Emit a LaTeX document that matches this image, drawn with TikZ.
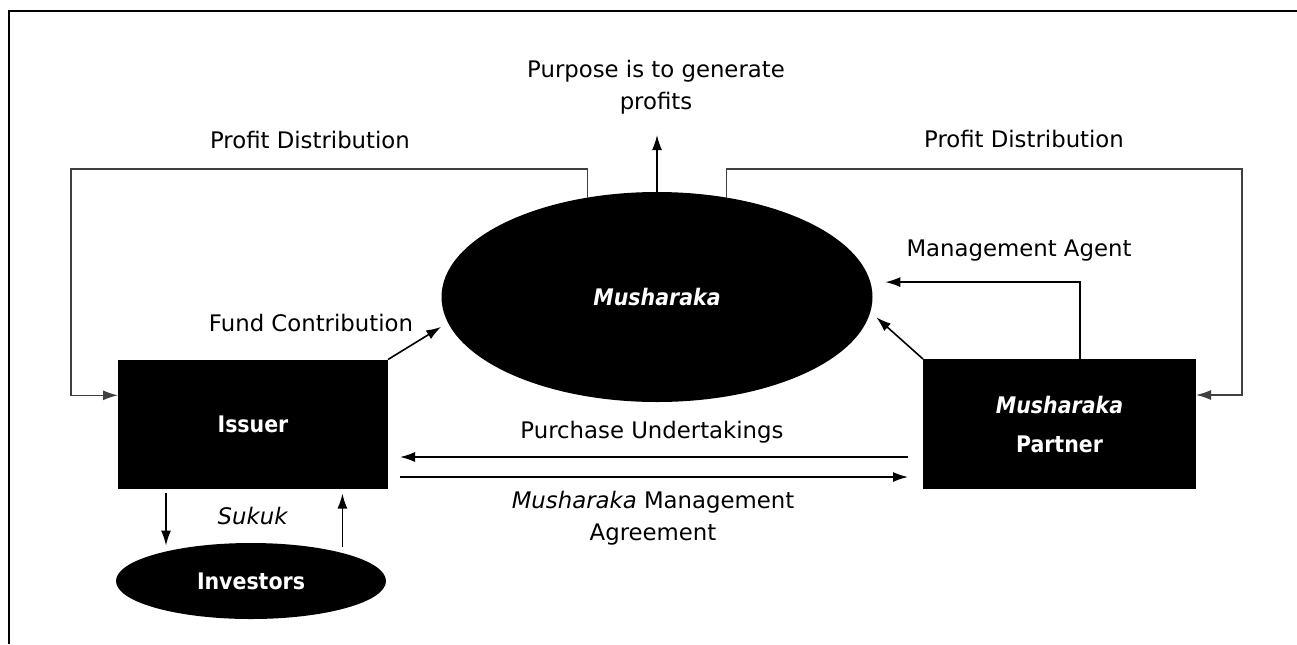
\documentclass[tikz,border=0pt]{standalone}
\usepackage{fontspec}
\setmainfont{DejaVu Sans}
\newfontfamily\condfont{DejaVu Sans Condensed}
\usetikzlibrary{shapes.geometric,arrows.meta}

\begin{document}
\begin{tikzpicture}[x=0.5pt, y=-0.5pt, line width=0.8pt,
  lbl/.style={font=\fontsize{11.4}{16}\selectfont, inner sep=0pt, align=center},
  blk/.style={fill=black, text=white, inner sep=0pt, outer sep=0pt, align=center,
    font=\condfont\bfseries\fontsize{11.4}{19.5}\selectfont},
  flow/.style={-{Latex[length=7.5pt,width=5pt]}},
  ring/.style={flow, black!75, line width=0.7pt}]
\useasboundingbox (0,0) rectangle (1297,644);
% frame
\draw[line width=1.4pt] (1297,11) -- (9,11) -- (9,644);
% parties
\node[blk, ellipse, minimum width=215.5pt, minimum height=105pt] (mush) at (657,297) {\itshape Musharaka};
\node[blk, rectangle, minimum width=135pt, minimum height=64.5pt] (issuer) at (253,424) {Issuer};
\node[blk, rectangle, minimum width=136.5pt, minimum height=65pt] (partner) at (1059.5,424) {{\itshape Musharaka}\\Partner};
\node[blk, ellipse, minimum width=135pt, minimum height=38pt] (investors) at (251,581) {Investors};
% labels
\node[lbl] (goal) at (656,87) {Purpose is to generate\\profits};
\node[lbl, anchor=base] (distL) at (310,148) {Profit Distribution};
\node[lbl, anchor=base] (distR) at (1024,147) {Profit Distribution};
\node[lbl, anchor=base] (agent) at (1019,256) {Management Agent};
\node[lbl, anchor=base] (fund) at (311,331) {Fund Contribution};
\node[lbl, anchor=base] (undertake) at (652,438) {Purchase Undertakings};
\node[lbl] (agree) at (653,518) {\textit{Musharaka} Management\\Agreement};
\node[lbl, anchor=base] (sukuk) at (253,524) {\textit{Sukuk}};
% corners and free ends
\coordinate (cornerL) at (71,169);
\coordinate (cornerR) at (1242,169);
\coordinate (goalTip) at (657,135);
\coordinate (sukukOut) at ([xshift=-43.5pt]issuer.south);
% profit distribution
\draw[ring] (mush.125) |- (cornerL) |- (issuer.168);
\draw[ring] (mush.55) |- (cornerR) |- (partner.12);
\draw[flow] (mush.north) -- (goalTip);
% contributions
\draw[flow, shorten >=4pt] (issuer.north east) -- (mush.187);
\draw[flow, shorten >=4pt] (partner.north west) -- (mush.-4);
\draw[flow, shorten >=7.5pt] ([xshift=10.25pt]partner.north) |- (mush.4);
% undertakings
\draw[flow, shorten <=7.5pt, shorten >=6pt] ([yshift=-16.5pt]partner.west) -- ([yshift=-16.5pt]issuer.east);
\draw[flow, shorten <=6pt, shorten >=7.5pt] ([yshift=-26.5pt]issuer.east) -- ([yshift=-26.5pt]partner.west);
% sukuk
\draw[flow, shorten <=2pt, shorten >=3pt] (sukukOut) -- (sukukOut |- investors.161);
\draw[flow, shorten <=3pt, shorten >=2.5pt] (investors.17) -- (investors.17 |- issuer.south);
\end{tikzpicture}
\end{document}
